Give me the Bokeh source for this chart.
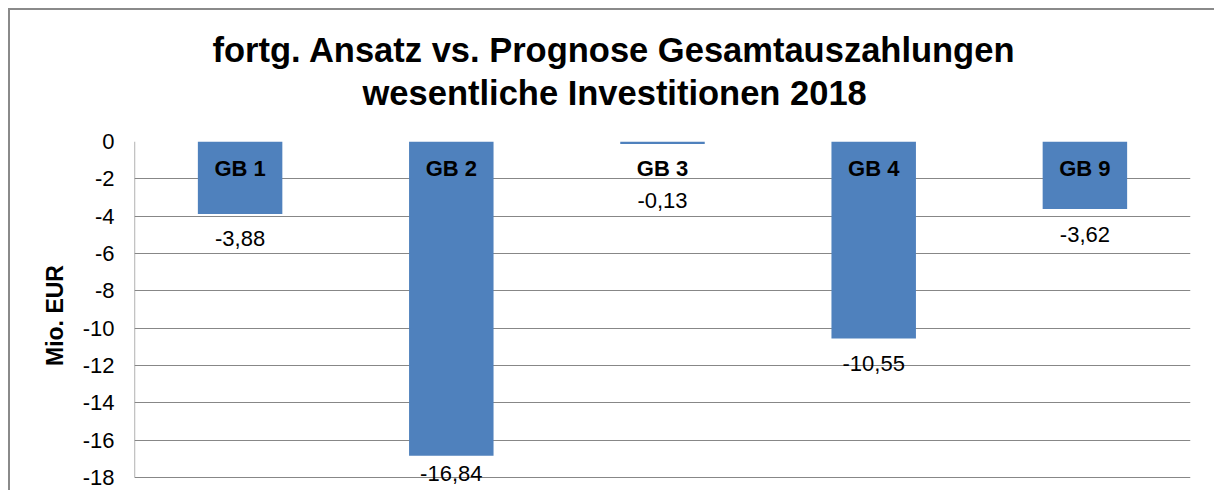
import numpy as np
from bokeh.plotting import figure
from bokeh.models import Range1d, FactorRange, FixedTicker, Title, ColumnDataSource
from bokeh.transform import dodge
from bokeh.core.properties import value
from bokeh.embed import file_html
from bokeh.resources import INLINE

# ---- data ----
categories = ["GB 1", "GB 2", "GB 3", "GB 4", "GB 9"]
values = [-3.88, -16.84, -0.13, -10.55, -3.62]
y_ticks = [0, -2, -4, -6, -8, -10, -12, -14, -16, -18]
title_line1 = "fortg. Ansatz vs. Prognose Gesamtauszahlungen"
title_line2 = "wesentliche Investitionen 2018"
y_label = "Mio. EUR"

# ---- style ----
FONT = "Liberation Sans"
GRID = "#878787"
BORDER = "#8a8a8a"
BAR = "#4f81bd"
Y_PAD = 0.643   # room below the last gridline for the lowest value label

vals = np.array(values)
value_text = [f"{v:.2f}".replace(".", ",") for v in values]
label_y = np.clip(vals, -16.42, -1.82)

src = ColumnDataSource(dict(cat=categories, val=values, zero=[0] * len(values),
                            txt=value_text, ly=label_y))
axis_src = ColumnDataSource(dict(cat=[categories[0]], y0=[max(y_ticks)], y1=[min(y_ticks)]))

p = figure(x_range=FactorRange(*categories),
           y_range=Range1d(min(y_ticks) - Y_PAD, max(y_ticks)),
           width=1206, height=482, output_backend="svg", toolbar_location=None,
           min_border_left=124, min_border_right=26, min_border_top=131,
           min_border_bottom=3, title=None)
p.styles = {"margin-left": "8px", "margin-top": "8px",
            "border-left": f"2px solid {BORDER}", "border-top": f"2px solid {BORDER}"}
p.background_fill_color = "white"
p.border_fill_color = "white"
p.outline_line_color = None

p.vbar(x="cat", top="zero", bottom="val", width=0.4, source=src,
       fill_color=BAR, line_color=None)
# y axis line from 0 down to the last tick
p.segment(x0=dodge("cat", -0.5, range=p.x_range), x1=dodge("cat", -0.5, range=p.x_range),
          y0="y0", y1="y1", source=axis_src, line_color=GRID, line_width=1.3)

p.text(x="cat", y="zero", text="cat", y_offset=27, source=src,
       text_align="center", text_baseline="middle", text_font=value(FONT),
       text_font_size="22px", text_font_style="bold", text_color="black")
p.text(x="cat", y="ly", text="txt", y_offset=25, source=src,
       text_align="center", text_baseline="middle", text_font=value(FONT),
       text_font_size="22px", text_color="black")

p.xaxis.visible = False
p.xgrid.visible = False
p.ygrid.grid_line_color = GRID
p.ygrid.grid_line_width = 1.2

ya = p.yaxis[0]
ya.ticker = FixedTicker(ticks=y_ticks)
ya.major_label_overrides = {t: str(t) for t in y_ticks}
ya.major_tick_out = 0
ya.major_tick_in = 0
ya.minor_tick_out = 0
ya.minor_tick_in = 0
ya.axis_line_color = None
ya.major_label_standoff = 20
ya.major_label_text_font = FONT
ya.major_label_text_font_size = "22px"
ya.major_label_text_color = "black"
ya.axis_label = y_label
ya.axis_label_text_font = FONT
ya.axis_label_text_font_size = "23px"
ya.axis_label_text_font_style = "bold"
ya.axis_label_text_color = "black"
ya.axis_label_standoff = 12

# title: spacer nearest the frame, then line 2, then line 1
p.add_layout(Title(text=" ", text_font_size="10px", standoff=14), "above")
p.add_layout(Title(text=title_line2, align="left", offset=228, text_font=FONT,
                   text_font_size="34.5px", text_font_style="bold",
                   text_color="black", standoff=6), "above")
p.add_layout(Title(text=title_line1, align="left", offset=78, text_font=FONT,
                   text_font_size="34.5px", text_font_style="bold",
                   text_color="black", standoff=0), "above")

open("out.html", "w").write(file_html(p, INLINE))
